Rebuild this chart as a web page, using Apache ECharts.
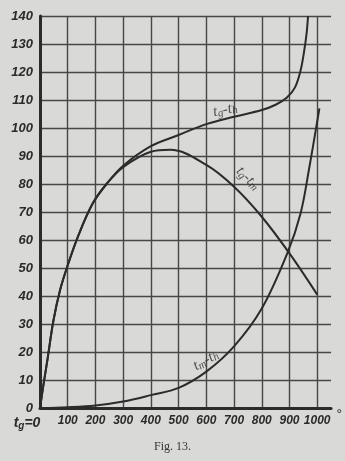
<!DOCTYPE html>
<html>
<head>
<meta charset="utf-8">
<script src="https://cdn.jsdelivr.net/npm/echarts@6/dist/echarts.min.js"></script>
<style>
    html, body { margin: 0; padding: 0; background: #d9d9d7; }
    #chart { width: 345px; height: 461px; }
</style>
</head>
<body>
<div id="chart"></div>
<script>
// curve points: [temperature, value]
var tgTh = [[0, 0], [12, 8], [28, 18], [48, 31], [72, 42], [100, 51], [140, 62], [190, 73], [240, 80],
    [300, 86.5], [400, 93.5], [500, 97.5], [600, 101.4], [700, 104], [800, 106.4], [850, 108.3],
    [890, 110.8], [920, 114.5], [940, 120.5], [953, 127.5], [962, 134], [967, 140]];
var tgTm = [[0, 0], [12, 8], [28, 18], [48, 31], [72, 42], [100, 51], [140, 62], [190, 73], [240, 80],
    [300, 86], [400, 91.5], [470, 92.2], [600, 86.8], [700, 79], [800, 68.3],
    [900, 55.2], [1000, 40.5]];
var tmTh = [[0, 0], [100, 0.3], [200, 0.9], [300, 2.3], [400, 4.6], [500, 7.2], [600, 13], [700, 22],
    [800, 35.5], [892, 55.2], [940, 69.5], [970, 85], [1008, 107]];

// curve names and where they are written
var curveLabels = ['t{s|g}-t{s|h}', 't{s|g}-t{s|m}', 't{s|m}-t{s|h}'];
var labelAt = [[668, 106.5], [750, 82], [598, 17]];
var labelRotate = [12, -45, 30];

var xTicks = [0, 100, 200, 300, 400, 500, 600, 700, 800, 900, 1000];
var yTicks = [0, 10, 20, 30, 40, 50, 60, 70, 80, 90, 100, 110, 120, 130, 140];

var ink = '#2b2b2b';
var gridInk = '#474747';

var chart = echarts.init(document.getElementById('chart'));

var labelData = [];
for (var i = 0; i < labelAt.length; i++) {
    labelData.push({
        value: labelAt[i],
        label: { formatter: curveLabels[i], rotate: labelRotate[i] }
    });
}

function curve(data) {
    return {
        type: 'line',
        data: data,
        smooth: 0.35,
        showSymbol: false,
        lineStyle: { color: ink, width: 2 },
        z: 5
    };
}

chart.setOption({
    backgroundColor: '#d9d9d7',
    animation: false,
    title: {
        text: 'Fig. 13.',
        left: 'center',
        top: 436,
        textStyle: { fontFamily: '"Liberation Serif"', fontSize: 12, fontWeight: 'normal', color: '#333' }
    },
    grid: { left: 40, right: 13, top: 16, bottom: 53 },
    xAxis: {
        type: 'value',
        min: 0,
        max: 1050,
        interval: 100,
        name: '°',
        nameLocation: 'end',
        nameGap: 2,
        nameTextStyle: { fontSize: 14, color: ink, verticalAlign: 'top', fontFamily: '"Liberation Sans"' },
        axisLine: { lineStyle: { color: ink, width: 3 } },
        axisTick: { show: false },
        splitLine: { show: true, showMaxLine: false, lineStyle: { color: gridInk, width: 1.4 } },
        axisLabel: {
            showMaxLabel: false,
            margin: 7,
            color: ink,
            fontSize: 12,
            fontStyle: 'italic',
            fontWeight: 'bold',
            fontFamily: '"Liberation Sans"',
            formatter: function (v) {
                if (v === 0) return '{p|t}{s|g}{p|=0}{sp| }';
                return xTicks.indexOf(v) >= 0 ? String(v) : '';
            },
            rich: {
                p: { fontSize: 14, fontStyle: 'italic', fontWeight: 'bold', color: ink },
                s: { fontSize: 10, fontStyle: 'italic', fontWeight: 'bold', color: ink, padding: [6, 0, 0, 0] },
                sp: { width: 26 }
            }
        }
    },
    yAxis: {
        type: 'value',
        min: 0,
        max: 140,
        interval: 10,
        axisLine: { show: true, lineStyle: { color: ink, width: 3 } },
        axisTick: { show: false },
        splitLine: { show: true, lineStyle: { color: gridInk, width: 1.4 } },
        axisLabel: {
            margin: 7,
            color: ink,
            fontSize: 13,
            fontStyle: 'italic',
            fontWeight: 'bold',
            fontFamily: '"Liberation Sans"',
            formatter: function (v) {
                return yTicks.indexOf(v) >= 0 ? String(v) : '';
            }
        }
    },
    series: [
        curve(tgTh),
        curve(tgTm),
        curve(tmTh),
        {
            type: 'scatter',
            data: labelData,
            symbolSize: 0,
            z: 6,
            label: {
                show: true,
                position: 'inside',
                color: ink,
                fontSize: 15,
                fontStyle: 'italic',
                fontFamily: '"Liberation Serif"',
                rich: {
                    s: { fontSize: 11, fontStyle: 'italic', fontFamily: '"Liberation Serif"', color: ink, padding: [5, 0, 0, 0] }
                }
            }
        }
    ]
});
</script>
</body>
</html>
